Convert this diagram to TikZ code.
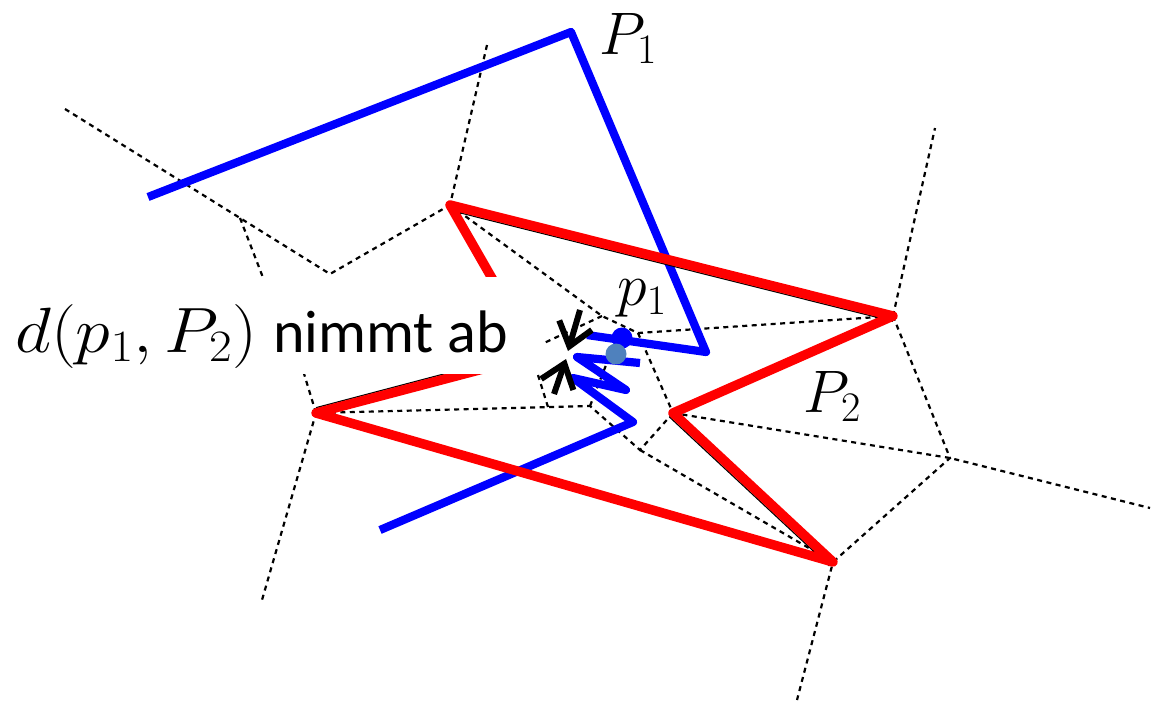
\RequirePackage{fix-cm}
\documentclass[tikz,border=0pt]{standalone}
\usepackage{fontspec}
\newfontfamily\labelfont{Carlito}
\usetikzlibrary{arrows.meta, calc}
\definecolor{pblue}{RGB}{0,0,255}
\definecolor{pred}{RGB}{255,0,0}
\definecolor{pnew}{RGB}{79,129,189}

\begin{document}
\begin{tikzpicture}[x=1pt, y=-1pt,
    voronoi/.style={black, line width=2.2pt, dash pattern=on 5pt off 4.5pt},
    polyone/.style={pblue, line width=8.2pt, line join=round},
    polytwo/.style={pred, line width=9.5pt, line join=round, line cap=round},
    shadowline/.style={black, line width=1.2pt},
    move/.style={black, line width=6pt, -{Straight Barb[length=22pt, width=34pt]}},
    lbl/.style={font=\fontsize{60}{72}\selectfont, inner sep=0pt}]
    \useasboundingbox (0,0) rectangle (1165,716);

    % vertices of P2
    \coordinate (r1) at (450,205);
    \coordinate (r2) at (893,316);
    \coordinate (r3) at (673,413);
    \coordinate (r4) at (833,562);
    \coordinate (r5) at (316,413);
    \coordinate (r6) at (536,355);

    % dotted cells
    \draw[voronoi] (65,109) -- (240,218) -- (330,274) -- (r1);
    \draw[voronoi] (240,218) -- (262,275) -- (270,300);
    \draw[voronoi] (487,45) -- (r1);
    \draw[voronoi] (r1) -- (602,316) -- (638,333) -- (r2);
    \draw[voronoi] (602,316) -- (544,343) -- (520,355);
    \draw[voronoi] (638,333) -- (r3);
    \draw[voronoi] (r3) -- (640,450) -- (590,406) -- (r5) -- (262,600);
    \draw[voronoi] (590,406) -- (608,360);
    \draw[voronoi] (548,407) -- (538,375) -- (535,360);
    \draw[voronoi] (r5) -- (305,377) -- (300,360);
    \draw[voronoi] (640,450) -- (r4) -- (797,700);
    \draw[voronoi] (r3) -- (950,458) -- (1150,508);
    \draw[voronoi] (r2) -- (950,458) -- (r4);
    \draw[voronoi] (r2) -- (935,128);

    % P1
    \draw[polyone] (148,197) -- (571,32) -- (706,352) -- (587,335);
    \draw[polyone] (640,363) -- (577,357) -- (626,390) -- (573,378) -- (633,422) -- (380,530);

    % P2
    \draw[shadowline] ($(r1)+(0,5.3)$) -- ($(r2)+(0,5.3)$);
    \draw[shadowline] ($(r5)+(0,-5.3)$) -- ($(r6)+(0,-5.3)$);
    \draw[shadowline] ($(r3)+(-3.6,3.9)$) -- ($(r4)+(-3.6,3.9)$);
    \draw[polytwo] (r1) -- (r2) -- (r3) -- (r4) -- (r5) -- (r6) -- cycle;

    % label
    \fill[white] (0,277) rectangle (543,374);
    \node[lbl, anchor=base west] (decr) at (15,352)
        {\makebox[258pt][l]{\scalebox{1.1}[1]{\fontsize{64}{76}\selectfont$d(p_1,P_2)$}}\labelfont nimmt ab};

    % points
    \fill[pblue] (622,338) circle (10.5);
    \fill[pnew] (616,354) circle (10.5);
    \node[lbl] (p1lbl) at (642,298) {$p_1$};
    \node[lbl] (P1lbl) at (628,38) {$P_1$};
    \node[lbl] (P2lbl) at (832,396) {$P_2$};

    % distance arrows
    \coordinate (up0) at (580,310);
    \coordinate (upT) at (568,351);
    \coordinate (lo0) at (554,394);
    \coordinate (loT) at (566,359);
    \draw[move] (up0) -- (upT);
    \draw[move] (lo0) -- (loT);
\end{tikzpicture}
\end{document}
